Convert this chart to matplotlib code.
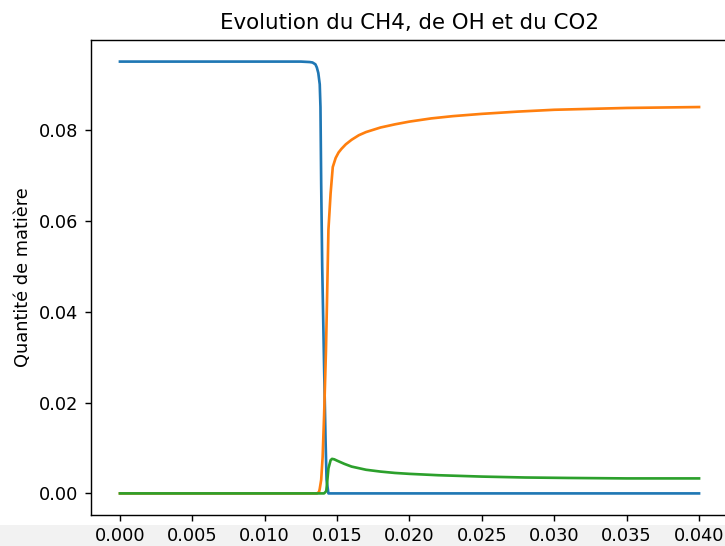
import numpy as np
import matplotlib
matplotlib.use("Agg")
import matplotlib.pyplot as plt
from matplotlib.patches import Rectangle

# CH4
t_ch4 = [0, 0.0125, 0.0131, 0.0133, 0.0135, 0.0136, 0.0137, 0.0138, 0.01385,
         0.0139, 0.01397, 0.0141, 0.0142, 0.01427, 0.0144, 0.040]
ch4 = [0.095, 0.095, 0.0949, 0.0948, 0.0944, 0.0937, 0.0925, 0.090, 0.085,
       0.068, 0.050, 0.028, 0.012, 0.003, 0.0, 0.0]

# CO2
t_co2 = [0, 0.0136, 0.01375, 0.0138, 0.0139, 0.0140, 0.0141, 0.01423, 0.0143,
         0.0144, 0.01455, 0.0147, 0.0149, 0.0151, 0.0153, 0.0156, 0.016,
         0.0165, 0.017, 0.018, 0.019, 0.020, 0.0215, 0.023, 0.025, 0.0275,
         0.030, 0.0325, 0.035, 0.0375, 0.040]
co2 = [0, 0, 0.0003, 0.001, 0.003, 0.008, 0.017, 0.0315, 0.042,
       0.058, 0.066, 0.0718, 0.0738, 0.0750, 0.0758, 0.0768, 0.0778,
       0.0788, 0.0795, 0.0805, 0.0812, 0.0818, 0.0825, 0.0830, 0.0835, 0.0840,
       0.0844, 0.0846, 0.0848, 0.0849, 0.0850]

# OH
t_oh = [0, 0.0141, 0.01425, 0.0143, 0.0144, 0.01455, 0.01465, 0.0148, 0.0150,
        0.0155, 0.016, 0.017, 0.018, 0.019, 0.020, 0.022, 0.025, 0.028,
        0.031, 0.035, 0.040]
oh = [0, 0, 0.0005, 0.002, 0.0055, 0.0073, 0.0076, 0.0075, 0.0072,
      0.0065, 0.0059, 0.0052, 0.0048, 0.0045, 0.0043, 0.0040, 0.0037, 0.0035,
      0.0034, 0.0033, 0.0033]

fig = plt.figure(figsize=(725 / 128, 546 / 128), dpi=128)
fig.patches.append(Rectangle((0, 0), 1, 21 / 546, transform=fig.transFigure,
                             facecolor='#f2f2f2', edgecolor='none', zorder=-1))
ax = fig.add_axes([91 / 725, 31 / 546, 637 / 725, 475 / 546])

ax.plot(t_ch4, ch4)
ax.plot(t_co2, co2)
ax.plot(t_oh, oh)

ax.set_xticks(np.arange(0, 0.0401, 0.005))
ax.set_title("Evolution du CH4, de OH et du CO2")
ax.set_ylabel("Quantité de matière")

fig.savefig("out.png", dpi=128)
